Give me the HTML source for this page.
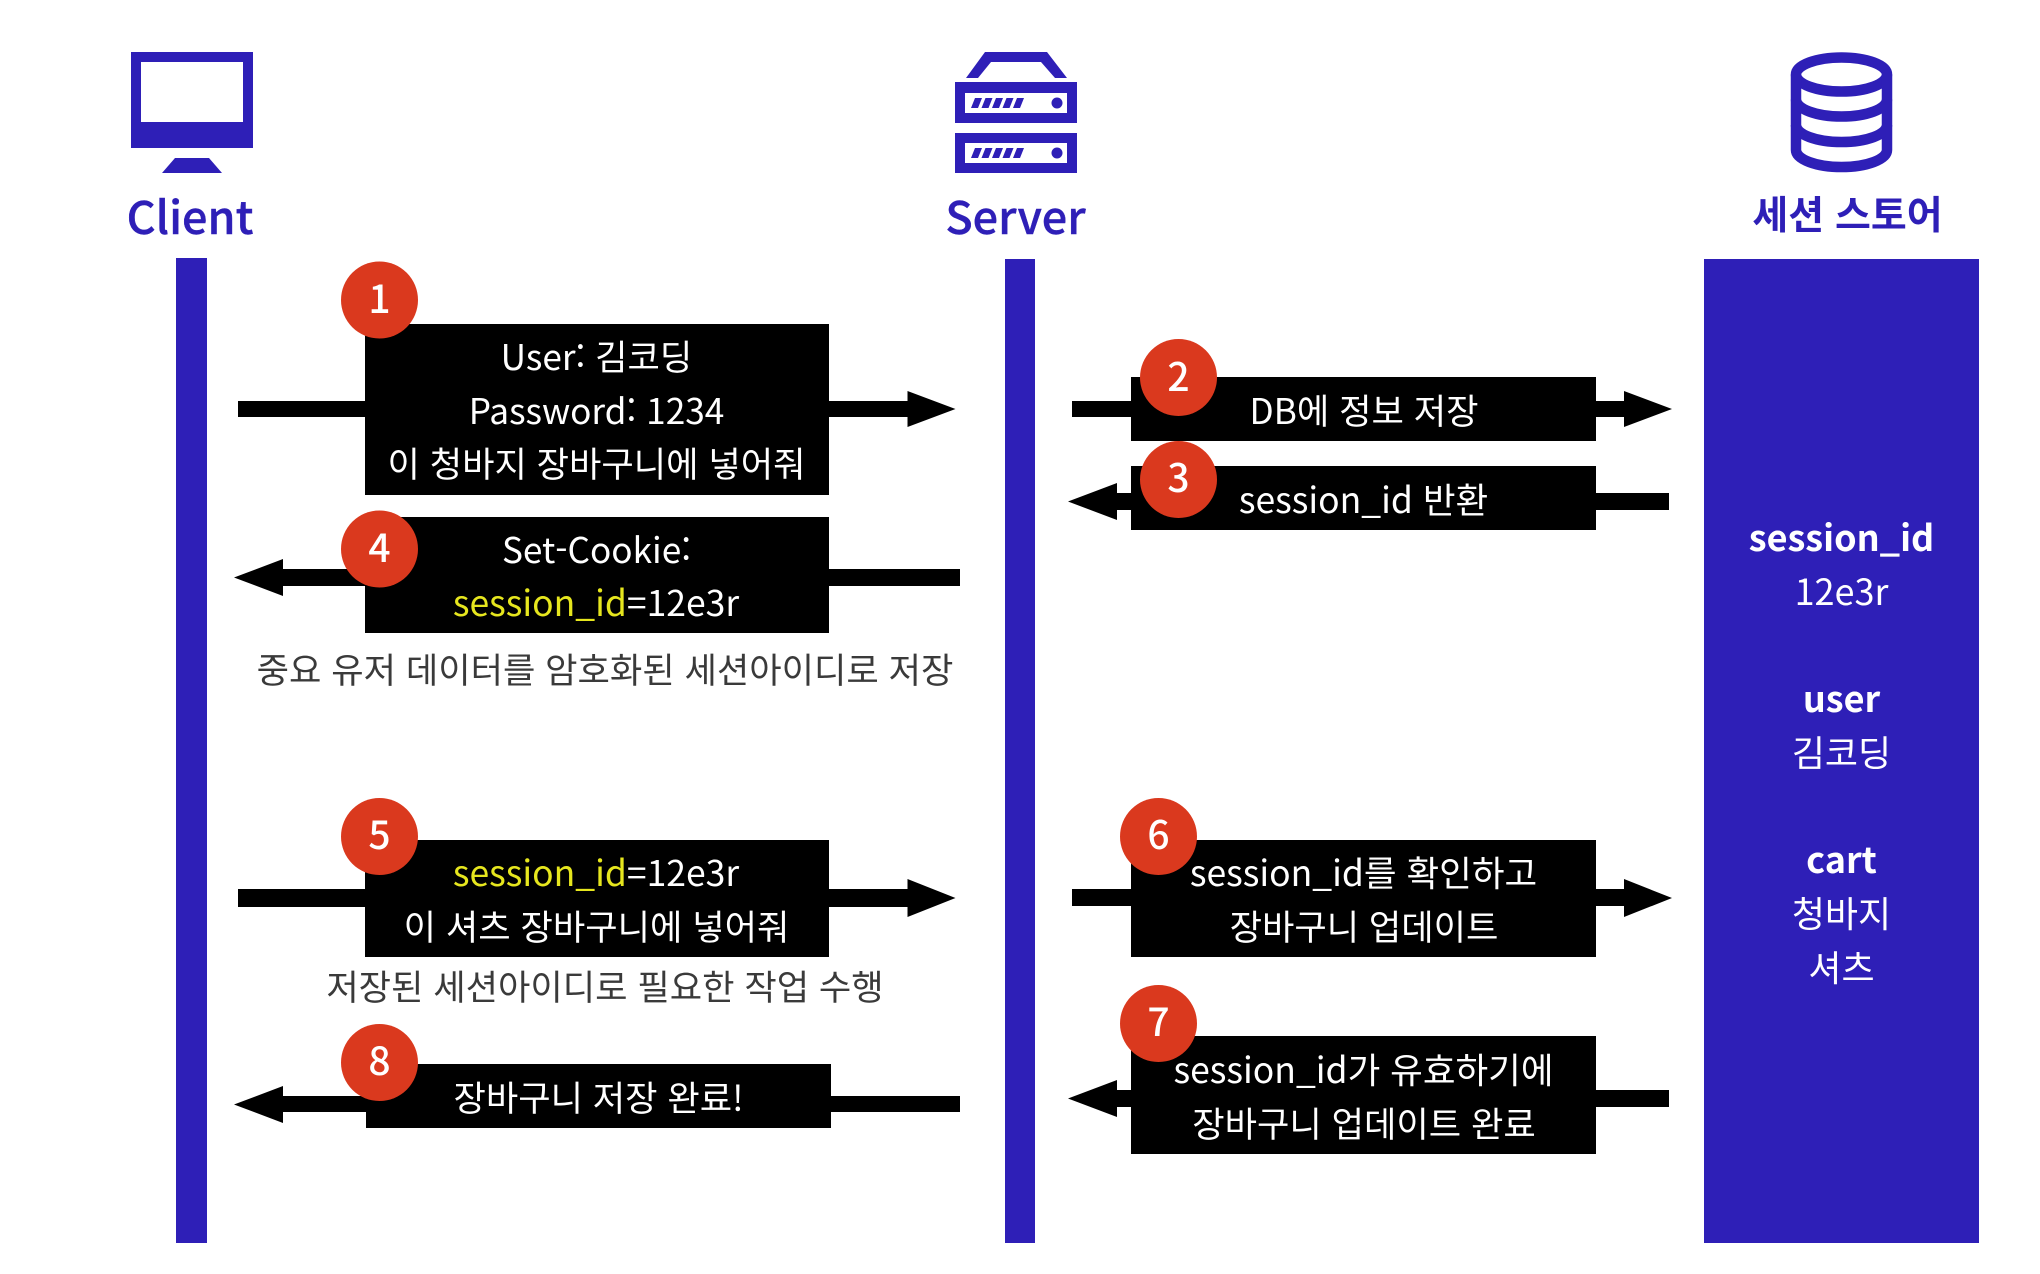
<!DOCTYPE html>
<html lang="ko">
<head>
<meta charset="utf-8">
<style>
html,body{margin:0;padding:0;background:#fff;width:2040px;height:1274px;overflow:hidden}
svg{display:block}
text{font-family:"Noto Sans CJK KR","NanumGothic",sans-serif;text-anchor:middle}
.t{font-size:35.200px;fill:#fff;font-weight:400}
.w{font-size:35.500px;fill:#fff;font-weight:400}
.p{font-size:36px;fill:#fff;font-weight:400}
.c{font-size:35.200px;fill:#3a3a3a;font-weight:400}
.h{font-size:45px;fill:#2e1fb7;font-weight:500;stroke:#2e1fb7;stroke-width:.4px}
.k{font-size:39px;fill:#2e1fb7;font-weight:700}
.b{font-size:36px;fill:#fff;font-weight:700}
.n{font-size:39px;fill:#fff;font-weight:500}
.y{fill:#e6e61e}
</style>
</head>
<body>
<svg width="2040" height="1274" viewBox="0 0 2040 1274" xmlns="http://www.w3.org/2000/svg">
<rect width="2040" height="1274" fill="#fff"/>

<!-- lifelines -->
<rect x="176" y="258" width="31" height="985" fill="#2e1fb7"/>
<rect x="1005" y="259" width="30" height="984" fill="#2e1fb7"/>
<rect x="1704" y="259" width="275" height="984" fill="#2e1fb7"/>

<!-- client icon -->
<path fill="#2e1fb7" fill-rule="evenodd" d="M131 52H253V148H131ZM141 62V122H243V62Z"/>
<polygon fill="#2e1fb7" points="175,158 209,158 222,173 162,173"/>

<!-- server icon -->
<path fill="#2e1fb7" d="M985 52H1047L1067 78H1055L1041 62H991L978 78H966Z"/>
<path fill="#2e1fb7" fill-rule="evenodd" d="M955 82H1077V123H955ZM965 93V113H1067V93Z"/>
<path fill="#2e1fb7" fill-rule="evenodd" d="M955 133H1077V173H955ZM965 143V163H1067V143Z"/>
<circle cx="1057" cy="103" r="5.500" fill="#2e1fb7"/>
<circle cx="1057" cy="153" r="5.500" fill="#2e1fb7"/>
<g fill="#2e1fb7">
<polygon points="975,98 982,98 978,108 971,108"/>
<polygon points="985.500,98 992.500,98 988.500,108 981.500,108"/>
<polygon points="996,98 1003,98 999,108 992,108"/>
<polygon points="1006.500,98 1013.500,98 1009.500,108 1002.500,108"/>
<polygon points="1017,98 1024,98 1020,108 1013,108"/>
<polygon points="975,148 982,148 978,158 971,158"/>
<polygon points="985.500,148 992.500,148 988.500,158 981.500,158"/>
<polygon points="996,148 1003,148 999,158 992,158"/>
<polygon points="1006.500,148 1013.500,148 1009.500,158 1002.500,158"/>
<polygon points="1017,148 1024,148 1020,158 1013,158"/>
</g>

<!-- db icon -->
<g fill="none" stroke="#2e1fb7" stroke-width="10.500">
<ellipse cx="1841.500" cy="74.500" rx="45.500" ry="17"/>
<path d="M1796 74.500V150A45.500 17 0 0 0 1887 150V74.500"/>
<path d="M1796 99.500A45.500 17 0 0 0 1887 99.500"/>
<path d="M1796 125A45.500 17 0 0 0 1887 125"/>
</g>

<!-- headers -->
<text class="h" x="190" y="234">Client</text>
<text class="h" x="1015.500" y="234">Server</text>
<text class="k" x="1847.500" y="229">세션 스토어</text>

<!-- arrows -->
<g fill="#000">
<path d="M238 401H907.500V391L955.500 409L907.500 427V417H238Z"/>
<path d="M234 577.500L283 559V569H960V586H283V596Z"/>
<path d="M238 889H907.500V879L955.500 898L907.500 917V907H238Z"/>
<path d="M234 1104.500L283 1086V1096H960V1112H283V1123Z"/>
<path d="M1072 401H1624V391L1672 409L1624 427V417H1072Z"/>
<path d="M1068 501.500L1117 483V493H1669V510H1117V520Z"/>
<path d="M1072 889H1624V879L1672 898L1624 917V906H1072Z"/>
<path d="M1068 1098.500L1117 1080V1090H1669V1107H1117V1117Z"/>
</g>

<!-- boxes -->
<g fill="#000">
<rect x="365" y="324" width="464" height="171"/>
<rect x="365" y="517" width="464" height="116"/>
<rect x="365" y="840" width="464" height="117"/>
<rect x="366" y="1064" width="465" height="64"/>
<rect x="1131" y="377" width="465" height="64"/>
<rect x="1131" y="466" width="465" height="64"/>
<rect x="1131" y="840" width="465" height="117"/>
<rect x="1131" y="1036" width="465" height="118"/>
</g>

<!-- box text -->
<text class="t" x="596.500" y="370">User: 김코딩</text>
<text class="t" x="596.500" y="424">Password: 1234</text>
<text class="t" x="596.500" y="477">이 청바지 장바구니에 넣어줘</text>
<text class="t" x="596.500" y="563">Set-Cookie:</text>
<text class="w" x="596" y="616"><tspan class="y">session_id</tspan>=12e3r</text>
<text class="c" x="605" y="683">중요 유저 데이터를 암호화된 세션아이디로 저장</text>
<text class="w" x="596" y="886"><tspan class="y">session_id</tspan>=12e3r</text>
<text class="t" x="596.500" y="940">이 셔츠 장바구니에 넣어줘</text>
<text class="c" x="605" y="1000">저장된 세션아이디로 필요한 작업 수행</text>
<text class="t" x="598.500" y="1111">장바구니 저장 완료!</text>
<text class="t" x="1364" y="424">DB에 정보 저장</text>
<text class="w" x="1363.500" y="513">session_id 반환</text>
<text class="w" x="1363.500" y="886">session_id를 확인하고</text>
<text class="t" x="1364" y="940">장바구니 업데이트</text>
<text class="w" x="1363.500" y="1083">session_id가 유효하기에</text>
<text class="t" x="1364" y="1137">장바구니 업데이트 완료</text>

<!-- panel text -->
<text class="b" x="1841.500" y="551">session_id</text>
<text class="p" x="1841.500" y="605">12e3r</text>
<text class="b" x="1841.500" y="712">user</text>
<text class="p" x="1841.500" y="766">김코딩</text>
<text class="b" x="1841.500" y="873">cart</text>
<text class="p" x="1841.500" y="927">청바지</text>
<text class="p" x="1841.500" y="981">셔츠</text>

<!-- badges -->
<g fill="#da391e">
<circle cx="379.500" cy="300" r="38.500"/>
<circle cx="1178.500" cy="377.500" r="38.500"/>
<circle cx="1178.500" cy="479.500" r="38.500"/>
<circle cx="379.500" cy="549" r="38.500"/>
<circle cx="379.500" cy="836.500" r="38.500"/>
<circle cx="1158.500" cy="836.500" r="38.500"/>
<circle cx="1158.500" cy="1023.500" r="38.500"/>
<circle cx="379.500" cy="1062.500" r="38.500"/>
</g>
<text class="n" x="379.500" y="313">1</text>
<text class="n" x="1178.500" y="391">2</text>
<text class="n" x="1178.500" y="492">3</text>
<text class="n" x="379.500" y="562">4</text>
<text class="n" x="379.500" y="849">5</text>
<text class="n" x="1158.500" y="849">6</text>
<text class="n" x="1158.500" y="1036">7</text>
<text class="n" x="379.500" y="1075">8</text>
</svg>
</body>
</html>
